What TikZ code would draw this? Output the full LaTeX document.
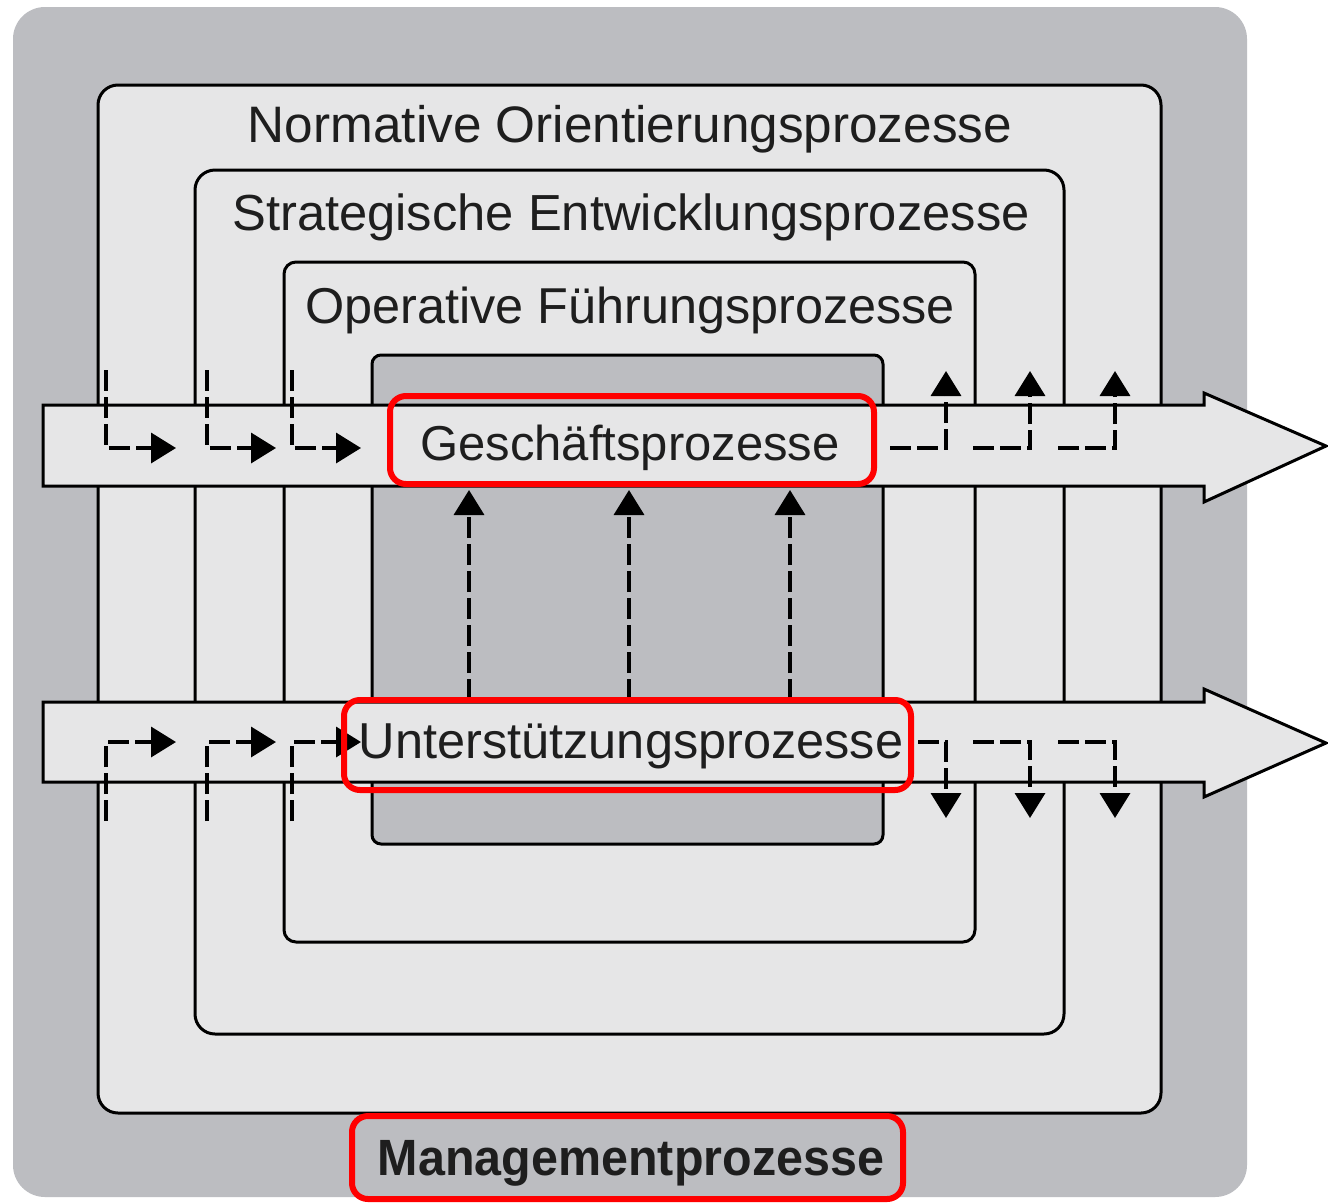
\documentclass[tikz,border=0pt]{standalone}
\usepackage{fontspec}
\setmainfont{Liberation Sans}
\usetikzlibrary{arrows.meta}
\definecolor{bgGray}{HTML}{BCBDC1}
\definecolor{boxLight}{HTML}{E6E6E7}
\definecolor{txtDark}{HTML}{1E1E1E}
\definecolor{annRed}{HTML}{FF0000}
\tikzset{
  layerbox/.style={draw=black, line width=3pt, fill=boxLight},
  bandarrow/.style={draw=black, line width=3pt, fill=boxLight, line join=miter},
  flowdash/.style={draw=black, line width=3.5pt, dash pattern=on 21pt off 6pt,
     -{Triangle[length=25pt,width=30pt]}},
  lbl/.style={anchor=base, text=txtDark, inner sep=0pt},
  redmark/.style={draw=annRed, line width=6pt, rounded corners=16pt},
}
\newcommand{\lblfont}[1]{\fontsize{#1}{#1}\selectfont}
\begin{document}
\begin{tikzpicture}[x=1pt,y=-1pt]
\useasboundingbox (0,0) rectangle (1328,1203);
\fill[white] (0,0) rectangle (1328,1203);
% outer gray panel
\fill[bgGray, rounded corners=32pt] (13,7) rectangle (1247,1197);
% nested layer boxes
\draw[layerbox, rounded corners=20pt] (98,85) rectangle (1161,1113);
\draw[layerbox, rounded corners=20pt] (195,170) rectangle (1064,1034);
\draw[layerbox, rounded corners=12pt] (284,262) rectangle (975,942);
\draw[layerbox, fill=bgGray, rounded corners=9pt] (372,355) rectangle (883,844);
% process bands (big arrows)
\draw[bandarrow] (43,405) -- (1204,405) -- (1204,393) -- (1326,446) -- (1204,502) -- (1204,486) -- (43,486) -- cycle;
\draw[bandarrow] (43,702) -- (1204,702) -- (1204,689) -- (1326,743) -- (1204,797) -- (1204,782) -- (43,782) -- cycle;
% labels
\node[lbl] (norm) at (630,142) {\lblfont{51.3}Normative Orientierungsprozesse};
\node[lbl] (strat) at (631,230) {\lblfont{50.7}Strategische Entwicklungsprozesse};
\node[lbl] (oper) at (630,323) {\lblfont{50.4}Operative Führungsprozesse};
\node[lbl] (gesch) at (630,460) {\lblfont{49}Geschäftsprozesse};
\node[lbl] (unter) at (631,758) {\lblfont{50.5}Unterstützungsprozesse};
\node[lbl] (mgmt) at (631,1175) {\scalebox{0.95}[1]{\lblfont{51}\bfseries Managementprozesse}};
% coordinates for flow connectors
\foreach \i/\xv/\xt in {1/106/176, 2/207/276, 3/292/361} {
  \coordinate (tl\i) at (\xv,370);
  \coordinate (tlE\i) at (\xt,448);
  \coordinate (bl\i) at (\xv,821);
  \coordinate (blE\i) at (\xt,742);
}
\foreach \i/\xs/\xb/\xv in {1/890/918/946, 2/973/973/1030, 3/1058/1058/1115} {
  \coordinate (tr\i) at (\xs,448);
  \coordinate (trE\i) at (\xv,371);
  \coordinate (br\i) at (\xb,742);
  \coordinate (brE\i) at (\xv,818);
}
\foreach \i/\xv in {1/469, 2/629, 3/790} {
  \coordinate (mu\i) at (\xv,700);
  \coordinate (muE\i) at (\xv,490);
}
% flow connectors
\foreach \i in {1,2,3} {
  \draw[flowdash] (tl\i) |- (tlE\i);
  \draw[flowdash] (bl\i) |- (blE\i);
  \draw[flowdash] (tr\i) -| (trE\i);
  \draw[flowdash] (br\i) -| (brE\i);
  \draw[flowdash] (mu\i) -- (muE\i);
}
% red annotation frames
\draw[redmark] (390,396) rectangle (874,484);
\draw[redmark] (344,700) rectangle (911,790);
\draw[redmark] (352,1116) rectangle (903,1199);
\end{tikzpicture}
\end{document}
